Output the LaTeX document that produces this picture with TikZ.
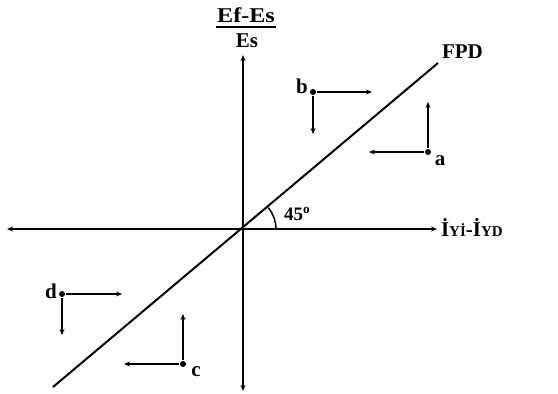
\documentclass[tikz,border=0pt]{standalone}
\usepackage{fontspec}
\setmainfont{Liberation Serif}
\usetikzlibrary{arrows.meta}
\begin{document}
\begin{tikzpicture}[x=1pt,y=-1pt,line width=2pt,
  ar/.style={-{Stealth[length=6pt,width=5pt]}},
  lbl/.style={font=\fontsize{21}{21}\selectfont\bfseries,inner sep=0pt},
  dotnode/.style={circle,fill,inner sep=0pt,minimum size=6pt}]
\useasboundingbox (0,0) rectangle (558,394);
% axes
\coordinate (O) at (243,229);
\coordinate (L) at (7,229);
\coordinate (R) at (437,229);
\coordinate (T) at (243,55);
\coordinate (B) at (243,391);
\draw[ar] (O) -- (L);
\draw[ar] (O) -- (R);
\draw[ar] (O) -- (T);
\draw[ar] (O) -- (B);
% FPD line
\coordinate (F1) at (53,387);
\coordinate (F2) at (438,63);
\draw (F1) -- (F2);
\node[lbl,anchor=base west] (fpd) at (441,58) {FPD};
% axis labels
\node[lbl,anchor=base] (num) at (246,22) {\scalebox{1.15}[1]{Ef-Es}};
\draw[line width=2pt] ([yshift=-5pt]num.base west) -- ([yshift=-5pt]num.base east);
\node[lbl,anchor=base] (den) at (247,47) {Es};
\node[lbl,anchor=base west] (xl) at (440,236) {İ{\fontsize{15}{15}\selectfont Yİ}-İ{\fontsize{15}{15}\selectfont YD}};
% angle
\draw[line width=1.5pt] ([shift={(33,0)}]O) arc[start angle=0,end angle=-40.4,radius=33];
\node[lbl,anchor=base west,font=\fontsize{19}{19}\selectfont\bfseries] (ang) at (283,220) {45\textsuperscript{o}};
% b
\node[dotnode] (b) at (313,92) {};
\coordinate (bR) at (372,92);
\coordinate (bD) at (313,134);
\draw[ar] (b) -- (bR);
\draw[ar] (b) -- (bD);
\node[lbl,anchor=base] (lb) at (302,93) {b};
% a
\node[dotnode] (a) at (428,152) {};
\coordinate (aU) at (428,102);
\coordinate (aL) at (369,152);
\draw[ar] (a) -- (aU);
\draw[ar] (a) -- (aL);
\node[lbl,anchor=base] (la) at (440,165) {a};
% d
\node[dotnode] (d) at (62,294) {};
\coordinate (dR) at (122,294);
\coordinate (dD) at (62,335);
\draw[ar] (d) -- (dR);
\draw[ar] (d) -- (dD);
\node[lbl,anchor=base] (ld) at (51,298) {d};
% c
\node[dotnode] (c) at (183,364) {};
\coordinate (cU) at (183,314);
\coordinate (cL) at (124,364);
\draw[ar] (c) -- (cU);
\draw[ar] (c) -- (cL);
\node[lbl,anchor=base] (lc) at (196,376) {c};
\end{tikzpicture}
\end{document}
